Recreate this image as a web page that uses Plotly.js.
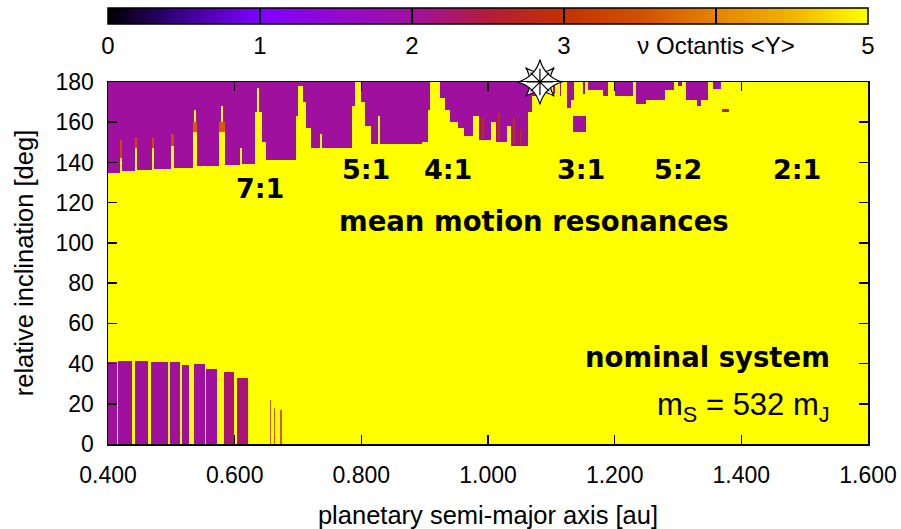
<!DOCTYPE html>
<html><head><meta charset="utf-8">
<script src="https://cdn.plot.ly/plotly-3.0.1.min.js"></script>
<style>html,body{margin:0;padding:0;background:#fff}</style></head>
<body><div id="chart" style="width:901px;height:529px"></div>
<script>
// ---- data ----
// Upper chaotic (purple) zone: segments in semi-major axis with min/max inclination and <Y> value
const upA0   = [0.400,0.419,0.422,0.442,0.445,0.469,0.472,0.4995,0.5035,0.534,0.5365,0.539,0.541,0.5755,0.578,0.582,0.5845,0.608,0.611,0.632,0.635,0.639,0.643,0.650,0.697,0.700,0.708,0.713,0.720,0.735,0.738,0.786,0.799,0.806,0.815,0.826,0.829,0.895,0.905,0.924,0.932,0.940,0.952,0.962,0.976,0.986,1.005,1.012,1.030,1.036,1.063,1.070,1.102,1.113,1.125,1.131,1.134,1.150,1.158,1.182,1.200,1.234,1.250,1.280,1.300,1.313,1.330,1.355,1.370];
const upA1   = [0.419,0.422,0.442,0.445,0.469,0.472,0.4995,0.5035,0.534,0.5365,0.539,0.541,0.5755,0.578,0.582,0.5845,0.608,0.611,0.632,0.635,0.639,0.643,0.650,0.697,0.700,0.708,0.713,0.720,0.735,0.738,0.786,0.790,0.806,0.815,0.826,0.829,0.895,0.905,0.909,0.932,0.940,0.952,0.962,0.976,0.986,1.005,1.012,1.030,1.036,1.063,1.070,1.077,1.105,1.116,1.131,1.135,1.155,1.153,1.182,1.190,1.229,1.250,1.280,1.293,1.306,1.347,1.336,1.368,1.380];
const upIlo  = [135,151,135.5,152,136,152,136.5,154,137,160,166,158,138,160,168,158,138.5,147,139,165,177,165,150,141,163,178,170,157,147,154,147,168,170,158,149,163,149,150,166,172,166,160,157,153,163,151,160,150,158,148,165,173,174,173,167,171,155,174,176,173,173,169,171,176,178,171,168,176.5,165];
const upIhi  = [180,180,180,180,180,180,180,180,180,180,180,180,180,180,180,180,180,180,180,180,180,180,180,180,180,180,180,180,180,180,180,180,180,180,180,180,180,180,180,180,180,180,180,180,180,180,180,180,180,180,180,180,180,180,180,180,163,180,180,180,180,180,180,180,180,180,171,180,166.5];
const upVal  = [2,2,2,2,2,2,2,2,2,2,2,2,2,2,2,2,2,2,2,2,2,2,2,2,2,2,2,2,2,2,2,2,2,2,2,2,2,2,2,2,2,2,2,2,2,2,2,2,2,2,2,2,2,2,2,2,2,2,2,2,2,2,2,2,2,2,2,2,2.6];

// Lower chaotic zone (low inclinations, inner orbits)
const loA0  = [0.400,0.4165,0.4425,0.4675,0.4985,0.5165,0.5365,0.5555,0.583,0.6035];
const loA1  = [0.4140,0.4375,0.4625,0.4945,0.5135,0.5285,0.553,0.572,0.5995,0.621];
const loTop = [41,41.5,41.5,41,41,39.5,40,37.5,36,33];
const loVal = [2,2,2,2,2,2,2,2,2.2,2.2];

// Intermediate (orange) streaks
const orA0  = [0.419,0.442,0.469,0.4995,0.534,0.5755,0.990,1.016,1.040,1.050,0.655,0.662,0.672];
const orA1  = [0.422,0.445,0.472,0.5035,0.541,0.5845,0.993,1.019,1.043,1.052,0.657,0.6635,0.674];
const orIlo = [142,147,147,148,155,155,152,151,149,148,0,0,0];
const orIhi = [151,152,152,154,160,160,162,164,162,156,22,18,17];
const orVal = [3.4,3.4,3.4,3.4,3.6,3.6,3.0,3.0,3.0,3.0,3.6,3.6,3.6];

// Stable background <Y> and plot domain
const stableY = 5;
const aRange = [0.4, 1.6];
const iRange = [0, 180];

// colorbar ticks
const cbVals = [0,1,2,3,4,5];
const cbText = ['0','1','2','3','ν Octantis &lt;Y&gt;','5'];
const xTicks = [0.4,0.6,0.8,1.0,1.2,1.4,1.6];
const yTicks = [0,20,40,60,80,100,120,140,160,180];

// labels
const resLab = ['7:1','5:1','4:1','3:1','5:2','2:1'];
const resA   = [0.640,0.8075,0.937,1.147,1.300,1.488];
const resI   = [127,136.3,136.3,136.3,136.3,136.3];
const starA = [1.082], starI = [180];

// ---- build grid with cell edges at the region boundaries ----
const uniq = arr => [...new Set(arr.map(v => Math.round(v * 1e6) / 1e6))].sort((p, q) => p - q);
const aEdges = uniq([...aRange, ...upA0, ...upA1, ...loA0, ...loA1, ...orA0, ...orA1]);
const iEdges = uniq([...iRange, ...upIlo, ...upIhi, ...loTop, ...orIlo, ...orIhi]);
const nA = aEdges.length - 1, nI = iEdges.length - 1;
const z = [];
for (let j = 0; j < nI; j++) z.push(new Array(nA).fill(stableY));
function paint(a0, a1, i0, i1, v) {
  for (let j = 0; j < nI; j++) {
    const ic = (iEdges[j] + iEdges[j + 1]) / 2;
    if (ic < i0 || ic > i1) continue;
    for (let k = 0; k < nA; k++) {
      const ac = (aEdges[k] + aEdges[k + 1]) / 2;
      if (ac >= a0 && ac < a1) z[j][k] = v;
    }
  }
}
for (let s = 0; s < upA0.length; s++) paint(upA0[s], upA1[s], upIlo[s], upIhi[s], upVal[s]);
for (let s = 0; s < loA0.length; s++) paint(loA0[s], loA1[s], 0, loTop[s], loVal[s]);
for (let s = 0; s < orA0.length; s++) paint(orA0[s], orA1[s], orIlo[s], orIhi[s], orVal[s]);

const FONT = 'Liberation Sans, Arial, sans-serif';
const WIDE = 'DejaVu Sans, sans-serif';

const heat = {
  type: 'heatmap', z: z, x: aEdges, y: iEdges,
  zmin: 0, zmax: 5, zsmooth: false, hoverinfo: 'skip',
  colorscale: [[0,'#000000'],[0.1,'#3c0090'],[0.2,'#7f00ff'],[0.3,'#9208d0'],[0.4,'#a0109f'],
               [0.5,'#b41c3c'],[0.6,'#c23200'],[0.7,'#d25000'],[0.8,'#e48400'],[0.9,'#f0b400'],[1,'#ffff00']],
  colorbar: {
    orientation: 'h', x: 0.5, xanchor: 'center', y: 1 + 74/362, yanchor: 'top',
    len: 1, lenmode: 'fraction', thickness: 16, thicknessmode: 'pixels',
    xpad: 0, ypad: 0, outlinewidth: 1.5, outlinecolor: '#000',
    tickmode: 'array', tickvals: cbVals, ticktext: cbText,
    ticks: 'inside', ticklen: 16, tickwidth: 1.5, tickcolor: '#000',
    tickfont: {family: FONT, size: 24, color: '#000'}
  }
};

const star1 = {type:'scatter', mode:'markers', x: starA, y: starI, cliponaxis:false, hoverinfo:'skip',
  marker:{symbol:'star-square', size:26, color:'#fff', line:{color:'#000', width:1.2}}, showlegend:false};
const star2 = {type:'scatter', mode:'markers', x: starA, y: starI, cliponaxis:false, hoverinfo:'skip',
  marker:{symbol:'star-diamond', size:32, color:'#fff', line:{color:'#000', width:1.2}}, showlegend:false};
const star3 = {type:'scatter', mode:'markers', x: starA, y: starI, cliponaxis:false, hoverinfo:'skip',
  marker:{symbol:'asterisk-open', size:22, color:'#000', line:{color:'#000', width:1.2}}, showlegend:false};

const ann = resLab.map((t, i) => ({x: resA[i], y: resI[i], text: '<b>' + t + '</b>', showarrow: false,
  font: {family: WIDE, size: 27, color: '#000'}, xanchor: 'center', yanchor: 'middle'}));
ann.push({x: 1.073, y: 110.8, text: '<b>mean motion resonances</b>', showarrow: false,
  font: {family: WIDE, size: 27.5, color: '#000'}, xanchor: 'center', yanchor: 'middle'});
ann.push({x: 1.543, y: 43.3, text: '<b>nominal system</b>', showarrow: false,
  font: {family: WIDE, size: 27.5, color: '#000'}, xanchor: 'right', yanchor: 'middle'});
ann.push({x: 1.543, y: 18.5, text: 'm<sub>S</sub> = 532 m<sub>J</sub>', showarrow: false,
  font: {family: FONT, size: 31, color: '#000'}, xanchor: 'right', yanchor: 'middle'});

const layout = {
  width: 901, height: 529,
  margin: {l: 108, r: 33, t: 82, b: 85, autoexpand: false},
  paper_bgcolor: '#fff', plot_bgcolor: '#ffff00',
  font: {family: FONT, size: 23, color: '#000'},
  showlegend: false,
  xaxis: {range: aRange, tickmode: 'array', tickvals: xTicks, tickformat: '.3f',
    ticks: 'inside', ticklen: 9, tickwidth: 1.5, tickcolor: '#000', mirror: 'allticks',
    showline: true, linecolor: '#000', linewidth: 1.5, showgrid: false, zeroline: false,
    ticklabelstandoff: 10,
    title: {text: 'planetary semi-major axis [au]', font: {family: FONT, size: 25.5}, standoff: 20}},
  yaxis: {range: iRange, tickmode: 'array', tickvals: yTicks,
    ticks: 'inside', ticklen: 9, tickwidth: 1.5, tickcolor: '#000', mirror: 'allticks',
    showline: true, linecolor: '#000', linewidth: 1.5, showgrid: false, zeroline: false,
    ticklabelstandoff: 8,
    title: {text: 'relative inclination [deg]', font: {family: FONT, size: 25.5}, standoff: 14}},
  annotations: ann
};

Plotly.newPlot('chart', [heat, star1, star2, star3], layout, {displayModeBar: false, staticPlot: true});
</script></body></html>
